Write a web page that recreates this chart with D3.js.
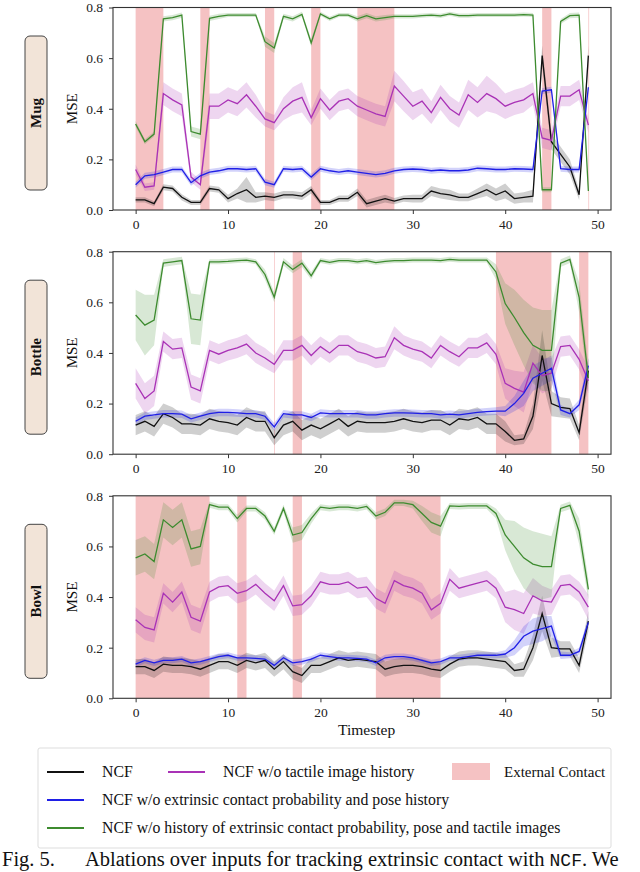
<!DOCTYPE html>
<html>
  <head>
    <meta charset="UTF-8">
    <title>Ablations over inputs</title>
    <script src="https://d3js.org/d3.v7.min.js"></script>
    <style>
      body { margin: 0; background: #fff; }
      svg text { font-family: "Liberation Serif", "DejaVu Serif", serif; }
    </style>
  </head>
  <body>
    <svg width="640" height="872"></svg>
    <script>
      // ---- data ----
      const objects = ["Mug", "Bottle", "Bowl"];
      const seriesNames = [
        "NCF",
        "NCF w/o tactile image history",
        "NCF w/o extrinsic contact probability and pose history",
        "NCF w/o history of  extrinsic contact probability, pose and tactile images"
      ];
      const xTicks = [0, 10, 20, 30, 40, 50];
      const yTicks = [0.0, 0.2, 0.4, 0.6, 0.8];

      // Mug
      const mugNcf = [0.04,0.04,0.025,0.09,0.085,0.05,0.03,0.03,0.085,0.08, 0.045,0.065,0.08,0.05,0.055,0.05,0.06,0.06,0.055,0.08, 0.03,0.03,0.045,0.045,0.07,0.025,0.035,0.045,0.035,0.045, 0.045,0.045,0.075,0.065,0.06,0.05,0.05,0.065,0.08,0.06, 0.075,0.045,0.05,0.055,0.61,0.27,0.22,0.17,0.06,0.61];
      const mugNcfErr = [0.01,0.01,0.01,0.012,0.012,0.012,0.01,0.01,0.012,0.012, 0.015,0.02,0.05,0.02,0.015,0.015,0.015,0.015,0.015,0.015, 0.01,0.01,0.012,0.012,0.015,0.015,0.015,0.015,0.012,0.012, 0.015,0.015,0.02,0.02,0.02,0.015,0.015,0.02,0.025,0.025, 0.03,0.02,0.02,0.025,0.04,0.03,0.03,0.03,0.02,0.04];
      const mugTactile = [0.16,0.09,0.095,0.46,0.435,0.415,0.13,0.10,0.41,0.41, 0.435,0.42,0.455,0.41,0.36,0.345,0.40,0.43,0.445,0.365, 0.44,0.395,0.43,0.44,0.41,0.395,0.38,0.37,0.49,0.45, 0.41,0.43,0.385,0.445,0.40,0.375,0.455,0.425,0.46,0.44, 0.41,0.425,0.435,0.46,0.285,0.275,0.45,0.45,0.475,0.335];
      const mugTactileErr = [0.02,0.015,0.015,0.045,0.045,0.045,0.02,0.02,0.05,0.05, 0.05,0.05,0.05,0.045,0.03,0.03,0.045,0.055,0.06,0.03, 0.04,0.04,0.04,0.04,0.04,0.04,0.04,0.04,0.06,0.06, 0.055,0.05,0.045,0.05,0.05,0.05,0.06,0.06,0.07,0.06, 0.05,0.05,0.05,0.045,0.04,0.04,0.04,0.04,0.04,0.03];
      const mugPose = [0.10,0.135,0.14,0.15,0.16,0.16,0.108,0.135,0.15,0.155, 0.163,0.163,0.16,0.163,0.11,0.10,0.163,0.16,0.163,0.13, 0.163,0.155,0.15,0.155,0.15,0.145,0.14,0.145,0.155,0.16, 0.162,0.16,0.155,0.158,0.155,0.155,0.158,0.165,0.163,0.16, 0.16,0.163,0.162,0.16,0.47,0.475,0.163,0.16,0.16,0.485];
      const mugPoseErr = [0.012,0.012,0.012,0.012,0.012,0.012,0.012,0.012,0.012,0.012, 0.012,0.012,0.012,0.012,0.012,0.012,0.012,0.012,0.012,0.012, 0.012,0.012,0.012,0.012,0.012,0.012,0.012,0.012,0.012,0.012, 0.012,0.012,0.012,0.012,0.012,0.012,0.012,0.012,0.012,0.012, 0.012,0.012,0.012,0.012,0.012,0.012,0.012,0.012,0.012,0.012];
      const mugAll = [0.34,0.27,0.30,0.755,0.76,0.77,0.31,0.30,0.757,0.765, 0.77,0.77,0.77,0.77,0.665,0.64,0.765,0.755,0.773,0.66, 0.775,0.755,0.77,0.77,0.755,0.768,0.755,0.76,0.765,0.765, 0.765,0.768,0.77,0.767,0.775,0.768,0.768,0.77,0.77,0.77, 0.77,0.77,0.772,0.77,0.08,0.08,0.745,0.768,0.77,0.075];
      const mugAllErr = [0.012,0.01,0.01,0.01,0.01,0.01,0.02,0.02,0.01,0.01, 0.008,0.008,0.008,0.008,0.02,0.02,0.01,0.01,0.01,0.015, 0.008,0.008,0.008,0.008,0.01,0.01,0.01,0.01,0.008,0.008, 0.008,0.008,0.008,0.008,0.008,0.008,0.008,0.008,0.008,0.008, 0.008,0.008,0.008,0.008,0.01,0.01,0.01,0.01,0.01,0.01];
      const mugContact = [[0, 3], [7, 8], [14, 15], [19, 20], [24, 28], [44, 45], [49, 49.08]];

      // Bottle
      const bottleNcf = [0.115,0.13,0.11,0.16,0.145,0.12,0.12,0.115,0.14,0.13, 0.125,0.115,0.145,0.13,0.13,0.065,0.115,0.13,0.095,0.115, 0.10,0.12,0.14,0.11,0.13,0.125,0.125,0.125,0.13,0.14, 0.13,0.125,0.135,0.135,0.115,0.14,0.135,0.145,0.12,0.12, 0.09,0.055,0.06,0.15,0.39,0.2,0.185,0.18,0.085,0.33];
      const bottleNcfErr = [0.04,0.04,0.04,0.04,0.04,0.04,0.04,0.04,0.04,0.04, 0.04,0.04,0.04,0.04,0.04,0.03,0.04,0.04,0.04,0.04, 0.04,0.04,0.04,0.04,0.04,0.04,0.04,0.04,0.04,0.04, 0.04,0.04,0.04,0.04,0.04,0.04,0.04,0.04,0.04,0.04, 0.04,0.02,0.02,0.05,0.1,0.05,0.04,0.04,0.03,0.05];
      const bottleTactile = [0.28,0.22,0.25,0.445,0.415,0.42,0.265,0.25,0.41,0.395, 0.41,0.42,0.435,0.40,0.38,0.355,0.41,0.41,0.43,0.39, 0.425,0.40,0.43,0.43,0.405,0.395,0.38,0.385,0.46,0.43, 0.415,0.405,0.38,0.43,0.405,0.385,0.42,0.42,0.44,0.395, 0.28,0.26,0.245,0.36,0.31,0.32,0.425,0.43,0.375,0.29];
      const bottleTactileErr = [0.06,0.06,0.06,0.04,0.04,0.04,0.05,0.05,0.04,0.04, 0.04,0.04,0.04,0.04,0.04,0.035,0.04,0.04,0.04,0.04, 0.04,0.04,0.04,0.04,0.04,0.04,0.04,0.04,0.045,0.04, 0.04,0.04,0.04,0.04,0.04,0.04,0.04,0.04,0.04,0.04, 0.06,0.07,0.08,0.07,0.07,0.06,0.04,0.04,0.04,0.05];
      const bottlePose = [0.13,0.15,0.155,0.16,0.16,0.158,0.14,0.15,0.16,0.165, 0.165,0.163,0.16,0.16,0.15,0.108,0.16,0.155,0.155,0.145, 0.163,0.16,0.16,0.16,0.16,0.155,0.155,0.16,0.163,0.163, 0.162,0.16,0.16,0.155,0.158,0.155,0.16,0.165,0.168,0.17, 0.17,0.2,0.24,0.3,0.32,0.34,0.175,0.16,0.195,0.35];
      const bottlePoseErr = [0.015,0.015,0.015,0.015,0.015,0.015,0.015,0.015,0.015,0.015, 0.015,0.015,0.015,0.015,0.015,0.015,0.015,0.015,0.015,0.015, 0.015,0.015,0.015,0.015,0.015,0.015,0.015,0.015,0.015,0.015, 0.015,0.015,0.015,0.015,0.015,0.015,0.015,0.015,0.015,0.015, 0.02,0.03,0.05,0.05,0.05,0.05,0.02,0.015,0.02,0.03];
      const bottleAll = [0.55,0.51,0.53,0.755,0.76,0.765,0.535,0.53,0.76,0.76, 0.762,0.765,0.767,0.76,0.71,0.62,0.76,0.73,0.755,0.705, 0.765,0.758,0.765,0.765,0.76,0.765,0.757,0.762,0.765,0.765, 0.767,0.767,0.767,0.765,0.77,0.767,0.767,0.767,0.767,0.72, 0.595,0.54,0.48,0.43,0.41,0.41,0.755,0.77,0.62,0.30];
      const bottleAllErr = [0.1,0.12,0.1,0.015,0.015,0.015,0.1,0.1,0.01,0.01, 0.01,0.01,0.01,0.01,0.02,0.02,0.015,0.015,0.015,0.015, 0.01,0.01,0.01,0.01,0.01,0.01,0.01,0.01,0.01,0.01, 0.01,0.01,0.01,0.01,0.01,0.01,0.01,0.01,0.01,0.03, 0.08,0.11,0.13,0.15,0.16,0.16,0.015,0.015,0.06,0.05];
      const bottleContact = [[15, 15.08], [17, 18], [39, 45], [48, 49]];

      // Bowl
      const bowlNcf = [0.125,0.125,0.11,0.135,0.13,0.13,0.125,0.115,0.13,0.145, 0.145,0.13,0.15,0.14,0.15,0.115,0.145,0.105,0.09,0.13, 0.13,0.145,0.16,0.15,0.155,0.15,0.145,0.115,0.125,0.13, 0.13,0.125,0.115,0.11,0.135,0.155,0.16,0.16,0.155,0.15, 0.145,0.11,0.115,0.2,0.335,0.2,0.195,0.195,0.13,0.305];
      const bowlNcfErr = [0.03,0.03,0.03,0.03,0.03,0.03,0.03,0.03,0.03,0.03, 0.03,0.03,0.03,0.03,0.03,0.03,0.03,0.03,0.03,0.03, 0.03,0.03,0.03,0.03,0.03,0.03,0.03,0.03,0.03,0.03, 0.03,0.03,0.03,0.03,0.03,0.03,0.03,0.03,0.03,0.03, 0.03,0.025,0.03,0.05,0.07,0.04,0.03,0.03,0.03,0.04];
      const bowlTactile = [0.31,0.28,0.27,0.415,0.38,0.42,0.32,0.305,0.42,0.44, 0.445,0.415,0.425,0.45,0.415,0.385,0.445,0.365,0.37,0.405, 0.46,0.45,0.45,0.46,0.435,0.44,0.395,0.375,0.465,0.445, 0.435,0.415,0.35,0.375,0.47,0.435,0.445,0.455,0.465,0.435, 0.36,0.35,0.335,0.405,0.385,0.38,0.445,0.45,0.42,0.36];
      const bowlTactileErr = [0.05,0.05,0.05,0.04,0.04,0.04,0.05,0.05,0.04,0.04, 0.04,0.04,0.04,0.04,0.04,0.04,0.04,0.04,0.04,0.04, 0.04,0.04,0.04,0.04,0.04,0.04,0.04,0.04,0.04,0.04, 0.04,0.04,0.04,0.04,0.045,0.04,0.04,0.04,0.04,0.04, 0.06,0.08,0.08,0.07,0.06,0.05,0.04,0.04,0.04,0.05];
      const bowlPose = [0.135,0.15,0.14,0.15,0.15,0.155,0.14,0.145,0.155,0.165, 0.17,0.16,0.16,0.158,0.155,0.13,0.16,0.14,0.145,0.155, 0.17,0.165,0.16,0.16,0.158,0.155,0.14,0.16,0.165,0.165, 0.16,0.15,0.14,0.145,0.16,0.16,0.165,0.17,0.17,0.17, 0.175,0.2,0.245,0.265,0.275,0.285,0.17,0.17,0.185,0.30];
      const bowlPoseErr = [0.012,0.012,0.012,0.012,0.012,0.012,0.012,0.012,0.012,0.012, 0.012,0.012,0.012,0.012,0.012,0.012,0.012,0.012,0.012,0.012, 0.012,0.012,0.012,0.012,0.012,0.012,0.012,0.012,0.012,0.012, 0.012,0.012,0.012,0.012,0.012,0.012,0.012,0.012,0.012,0.012, 0.015,0.03,0.04,0.05,0.05,0.04,0.015,0.012,0.015,0.02];
      const bowlAll = [0.555,0.57,0.54,0.705,0.675,0.705,0.59,0.60,0.765,0.755, 0.755,0.71,0.75,0.75,0.72,0.66,0.75,0.645,0.655,0.71, 0.755,0.75,0.755,0.755,0.75,0.758,0.72,0.735,0.772,0.772, 0.765,0.73,0.695,0.68,0.76,0.758,0.76,0.76,0.76,0.73, 0.645,0.60,0.555,0.53,0.52,0.52,0.75,0.762,0.66,0.43];
      const bowlAllErr = [0.07,0.07,0.07,0.07,0.07,0.07,0.07,0.07,0.012,0.012, 0.012,0.015,0.012,0.012,0.015,0.015,0.015,0.03,0.03,0.02, 0.012,0.012,0.012,0.012,0.012,0.012,0.015,0.015,0.012,0.012, 0.015,0.03,0.04,0.04,0.012,0.012,0.012,0.012,0.012,0.02, 0.06,0.1,0.12,0.13,0.13,0.12,0.015,0.015,0.05,0.04];
      const bowlContact = [[0, 8], [11, 12], [17, 18], [26, 33]];

      const panels = [
        { name: "Mug", contact: mugContact,
          series: [[mugNcf, mugNcfErr], [mugTactile, mugTactileErr], [mugPose, mugPoseErr], [mugAll, mugAllErr]] },
        { name: "Bottle", contact: bottleContact,
          series: [[bottleNcf, bottleNcfErr], [bottleTactile, bottleTactileErr], [bottlePose, bottlePoseErr], [bottleAll, bottleAllErr]] },
        { name: "Bowl", contact: bowlContact,
          series: [[bowlNcf, bowlNcfErr], [bowlTactile, bowlTactileErr], [bowlPose, bowlPoseErr], [bowlAll, bowlAllErr]] }
      ];

      // ---- layout ----
      const colors = ["#111111", "#a932b6", "#1f1fe6", "#3d8b2f"];
      const contactColor = "#e8787a";
      const left = 113, right = 611, panelH = 202.5;
      const panelTops = [7.5, 251.7, 495.8];

      const svg = d3.select("svg");

      const x = d3.scaleLinear().domain([-2.45, 51.45]).range([left, right]);

      panels.forEach((p, pi) => {
        const top = panelTops[pi];
        const y = d3.scaleLinear().domain([0, 0.8]).range([top + panelH, top]);
        const g = svg.append("g");

        // contact spans
        g.append("g").selectAll("rect")
          .data(p.contact)
          .join("rect")
          .attr("x", d => x(d[0]))
          .attr("width", d => x(d[1]) - x(d[0]))
          .attr("y", top)
          .attr("height", panelH)
          .attr("fill", contactColor)
          .attr("opacity", 0.45);

        const area = d3.area()
          .x((d, i) => x(i))
          .y0(d => y(d[0] - d[1]))
          .y1(d => y(d[0] + d[1]));
        const line = d3.line()
          .x((d, i) => x(i))
          .y(d => y(d));

        p.series.forEach((s, si) => {
          const pts = s[0].map((v, i) => [v, s[1][i]]);
          g.append("path")
            .attr("d", area(pts))
            .attr("fill", colors[si])
            .attr("opacity", 0.2);
        });
        p.series.forEach((s, si) => {
          g.append("path")
            .attr("d", line(s[0]))
            .attr("fill", "none")
            .attr("stroke", colors[si])
            .attr("stroke-width", 1.3);
        });

        // frame
        g.append("rect")
          .attr("x", left).attr("y", top)
          .attr("width", right - left).attr("height", panelH)
          .attr("fill", "none").attr("stroke", "#333").attr("stroke-width", 1.1);

        const yAxis = g.append("g")
          .attr("transform", `translate(${left},0)`)
          .call(d3.axisLeft(y).tickValues(yTicks).tickFormat(d3.format(".1f")).tickSize(4).tickPadding(6));
        const xAxis = g.append("g")
          .attr("transform", `translate(0,${top + panelH})`)
          .call(d3.axisBottom(x).tickValues(xTicks).tickSize(4).tickPadding(5));
        [yAxis, xAxis].forEach(a => {
          a.select(".domain").remove();
          a.selectAll("line").attr("stroke", "#333");
          a.selectAll("text")
            .attr("fill", "#222")
            .style("font-family", "'Liberation Serif', serif")
            .style("font-size", "13.5px");
        });

        g.append("text")
          .attr("transform", `translate(77,${top + panelH / 2}) rotate(-90)`)
          .attr("text-anchor", "middle")
          .attr("fill", "#111")
          .style("font-size", "15px")
          .text("MSE");

        // object label box
        const boxTop = top + 28.5, boxH = 154;
        g.append("rect")
          .attr("x", 25).attr("y", boxTop)
          .attr("width", 22).attr("height", boxH)
          .attr("rx", 5)
          .attr("fill", "#f2e4d8")
          .attr("stroke", "#444")
          .attr("stroke-width", 1);
        g.append("text")
          .attr("transform", `translate(41,${boxTop + boxH / 2}) rotate(-90)`)
          .attr("text-anchor", "middle")
          .attr("fill", "#111")
          .style("font-size", "15px")
          .style("font-weight", "bold")
          .text(p.name);
      });

      svg.append("text")
        .attr("x", (x(0) + x(50)) / 2)
        .attr("y", 735)
        .attr("text-anchor", "middle")
        .attr("fill", "#111")
        .style("font-size", "15.5px")
        .text("Timestep");

      // ---- legend ----
      const legend = svg.append("g");
      legend.append("rect")
        .attr("x", 38).attr("y", 748)
        .attr("width", 573).attr("height", 100)
        .attr("rx", 2)
        .attr("fill", "#fff")
        .attr("stroke", "#ddd");

      const legendItems = [
        { s: 0, x: 47, y: 772 },
        { s: 1, x: 168, y: 772 },
        { s: 2, x: 47, y: 800 },
        { s: 3, x: 47, y: 828 }
      ];
      legendItems.forEach(it => {
        legend.append("line")
          .attr("x1", it.x).attr("x2", it.x + 37)
          .attr("y1", it.y).attr("y2", it.y)
          .attr("stroke", colors[it.s])
          .attr("stroke-width", 2);
        legend.append("text")
          .attr("x", it.x + 55).attr("y", it.y + 5)
          .attr("fill", "#111")
          .style("font-size", "15.8px")
          .text(seriesNames[it.s]);
      });
      legend.append("rect")
        .attr("x", 452).attr("y", 763)
        .attr("width", 38).attr("height", 17)
        .attr("fill", contactColor)
        .attr("opacity", 0.45);
      legend.append("text")
        .attr("x", 504).attr("y", 777)
        .attr("fill", "#111")
        .style("font-size", "15px")
        .text("External Contact");

      // ---- caption ----
      const cap = svg.append("text")
        .attr("x", 2).attr("y", 866)
        .attr("fill", "#111")
        .style("font-size", "20.5px");
      cap.append("tspan").text("Fig. 5.");
      cap.append("tspan").attr("dx", 30).text("Ablations over inputs for tracking extrinsic contact with ");
      cap.append("tspan").style("font-family", "'Liberation Mono', monospace").style("font-size", "18px").text("NCF");
      cap.append("tspan").text(". We");
    </script>
  </body>
</html>
